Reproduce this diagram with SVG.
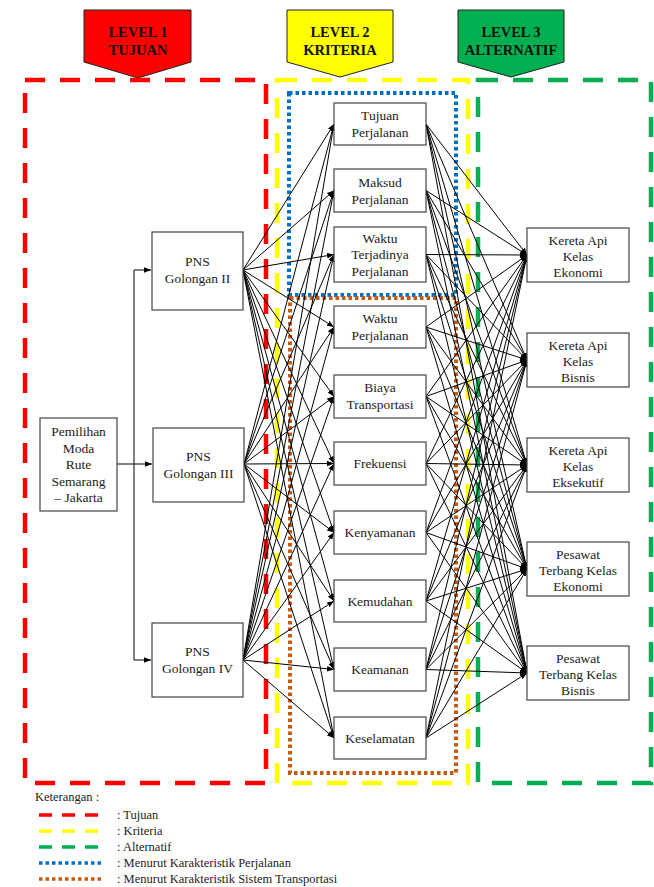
<svg xmlns="http://www.w3.org/2000/svg" width="654" height="887" viewBox="0 0 654 887">
<defs>
<marker id="ah" viewBox="0 0 10 10" refX="10" refY="5" markerWidth="7" markerHeight="7" markerUnits="userSpaceOnUse" orient="auto">
<path d="M0,1 L10,5 L0,9 z" fill="#000"/>
</marker>
<style>
.t{font-family:"Liberation Serif","Times New Roman",serif;font-size:13.5px;fill:#222;text-anchor:middle}
.h{font-family:"Liberation Serif","Times New Roman",serif;font-size:14.5px;font-weight:bold;fill:#111;text-anchor:middle}
.lg{font-family:"Liberation Serif","Times New Roman",serif;font-size:12.5px;fill:#222}
.box{fill:#fff;stroke:#444;stroke-width:1.2}
.e{stroke:#000;stroke-width:1;fill:none;marker-end:url(#ah)}
.dr{fill:none;stroke:#ff0000;stroke-width:4.5;stroke-dasharray:20 15}
.dy{fill:none;stroke:#ffff00;stroke-width:4.5;stroke-dasharray:20 15}
.dg{fill:none;stroke:#00b050;stroke-width:4.5;stroke-dasharray:20 15}
.db{fill:none;stroke:#0070c0;stroke-width:4;stroke-dasharray:3.5 3}
.do{fill:none;stroke:#c55a11;stroke-width:4;stroke-dasharray:3.5 3}
.lr{stroke:#ff0000;stroke-width:3.5;stroke-dasharray:13 10}
.ly{stroke:#ffff00;stroke-width:3.5;stroke-dasharray:13 10}
.lgn{stroke:#00b050;stroke-width:3.5;stroke-dasharray:13 10}
.lb{stroke:#0070c0;stroke-width:3.5;stroke-dasharray:3.5 3}
.lo{stroke:#c55a11;stroke-width:3.5;stroke-dasharray:3.5 3}
</style>
</defs>
<rect width="654" height="887" fill="#fff"/>

<g id="headers">
<g id="hdr1"><polygon points="84,10 191,10 191,62 138,78 84,62" fill="#ff0000" stroke="#222" stroke-width="1"/><text class="h" x="138" y="37">LEVEL 1</text><text class="h" x="138" y="55">TUJUAN</text></g>
<g id="hdr2"><polygon points="287,10 393,10 393,62 340,77 287,62" fill="#ffff00" stroke="#222" stroke-width="1"/><text class="h" x="340" y="37">LEVEL 2</text><text class="h" x="340" y="55">KRITERIA</text></g>
<g id="hdr3"><polygon points="458,10 564,10 564,62 511,77 458,62" fill="#00b050" stroke="#222" stroke-width="1"/><text class="h" x="511" y="37">LEVEL 3</text><text class="h" x="511" y="55">ALTERNATIF</text></g>
</g>

<g id="groups">
<rect class="dr" x="25" y="80" width="241" height="703"/>
<rect class="dy" x="277" y="80" width="191" height="703"/>
<rect class="dg" x="478" y="80" width="173" height="703"/>
<rect class="db" x="289" y="93" width="167" height="202"/>
<rect class="do" x="290" y="298" width="166" height="475"/>
</g>

<g id="connectors">
<polyline points="117,464 152,464" class="e"/>
<polyline points="134,464 134,270 151,270" class="e"/>
<polyline points="134,464 134,660 151,660" class="e"/>

<line class="e" x1="243" y1="270" x2="334" y2="124"/>
<line class="e" x1="243" y1="270" x2="334" y2="190.5"/>
<line class="e" x1="243" y1="270" x2="334" y2="254.5"/>
<line class="e" x1="243" y1="270" x2="334" y2="327"/>
<line class="e" x1="243" y1="270" x2="334" y2="396.5"/>
<line class="e" x1="243" y1="270" x2="334" y2="463.5"/>
<line class="e" x1="243" y1="270" x2="334" y2="532.5"/>
<line class="e" x1="243" y1="270" x2="334" y2="601"/>
<line class="e" x1="243" y1="270" x2="334" y2="669.5"/>
<line class="e" x1="243" y1="270" x2="334" y2="738"/>

<line class="e" x1="244" y1="464" x2="334" y2="124"/>
<line class="e" x1="244" y1="464" x2="334" y2="190.5"/>
<line class="e" x1="244" y1="464" x2="334" y2="254.5"/>
<line class="e" x1="244" y1="464" x2="334" y2="327"/>
<line class="e" x1="244" y1="464" x2="334" y2="396.5"/>
<line class="e" x1="244" y1="464" x2="334" y2="463.5"/>
<line class="e" x1="244" y1="464" x2="334" y2="532.5"/>
<line class="e" x1="244" y1="464" x2="334" y2="601"/>
<line class="e" x1="244" y1="464" x2="334" y2="669.5"/>
<line class="e" x1="244" y1="464" x2="334" y2="738"/>

<line class="e" x1="243" y1="660" x2="334" y2="124"/>
<line class="e" x1="243" y1="660" x2="334" y2="190.5"/>
<line class="e" x1="243" y1="660" x2="334" y2="254.5"/>
<line class="e" x1="243" y1="660" x2="334" y2="327"/>
<line class="e" x1="243" y1="660" x2="334" y2="396.5"/>
<line class="e" x1="243" y1="660" x2="334" y2="463.5"/>
<line class="e" x1="243" y1="660" x2="334" y2="532.5"/>
<line class="e" x1="243" y1="660" x2="334" y2="601"/>
<line class="e" x1="243" y1="660" x2="334" y2="669.5"/>
<line class="e" x1="243" y1="660" x2="334" y2="738"/>

<line class="e" x1="426" y1="124" x2="527" y2="255"/>
<line class="e" x1="426" y1="124" x2="527" y2="360"/>
<line class="e" x1="426" y1="124" x2="527" y2="465"/>
<line class="e" x1="426" y1="124" x2="527" y2="569"/>
<line class="e" x1="426" y1="124" x2="527" y2="673"/>
<line class="e" x1="426" y1="190.5" x2="527" y2="255"/>
<line class="e" x1="426" y1="190.5" x2="527" y2="360"/>
<line class="e" x1="426" y1="190.5" x2="527" y2="465"/>
<line class="e" x1="426" y1="190.5" x2="527" y2="569"/>
<line class="e" x1="426" y1="190.5" x2="527" y2="673"/>
<line class="e" x1="426" y1="254.5" x2="527" y2="255"/>
<line class="e" x1="426" y1="254.5" x2="527" y2="360"/>
<line class="e" x1="426" y1="254.5" x2="527" y2="465"/>
<line class="e" x1="426" y1="254.5" x2="527" y2="569"/>
<line class="e" x1="426" y1="254.5" x2="527" y2="673"/>
<line class="e" x1="426" y1="327" x2="527" y2="255"/>
<line class="e" x1="426" y1="327" x2="527" y2="360"/>
<line class="e" x1="426" y1="327" x2="527" y2="465"/>
<line class="e" x1="426" y1="327" x2="527" y2="569"/>
<line class="e" x1="426" y1="327" x2="527" y2="673"/>
<line class="e" x1="426" y1="396.5" x2="527" y2="255"/>
<line class="e" x1="426" y1="396.5" x2="527" y2="360"/>
<line class="e" x1="426" y1="396.5" x2="527" y2="465"/>
<line class="e" x1="426" y1="396.5" x2="527" y2="569"/>
<line class="e" x1="426" y1="396.5" x2="527" y2="673"/>
<line class="e" x1="426" y1="463.5" x2="527" y2="255"/>
<line class="e" x1="426" y1="463.5" x2="527" y2="360"/>
<line class="e" x1="426" y1="463.5" x2="527" y2="465"/>
<line class="e" x1="426" y1="463.5" x2="527" y2="569"/>
<line class="e" x1="426" y1="463.5" x2="527" y2="673"/>
<line class="e" x1="426" y1="532.5" x2="527" y2="255"/>
<line class="e" x1="426" y1="532.5" x2="527" y2="360"/>
<line class="e" x1="426" y1="532.5" x2="527" y2="465"/>
<line class="e" x1="426" y1="532.5" x2="527" y2="569"/>
<line class="e" x1="426" y1="532.5" x2="527" y2="673"/>
<line class="e" x1="426" y1="601" x2="527" y2="255"/>
<line class="e" x1="426" y1="601" x2="527" y2="360"/>
<line class="e" x1="426" y1="601" x2="527" y2="465"/>
<line class="e" x1="426" y1="601" x2="527" y2="569"/>
<line class="e" x1="426" y1="601" x2="527" y2="673"/>
<line class="e" x1="426" y1="669.5" x2="527" y2="255"/>
<line class="e" x1="426" y1="669.5" x2="527" y2="360"/>
<line class="e" x1="426" y1="669.5" x2="527" y2="465"/>
<line class="e" x1="426" y1="669.5" x2="527" y2="569"/>
<line class="e" x1="426" y1="669.5" x2="527" y2="673"/>
<line class="e" x1="426" y1="738" x2="527" y2="255"/>
<line class="e" x1="426" y1="738" x2="527" y2="360"/>
<line class="e" x1="426" y1="738" x2="527" y2="465"/>
<line class="e" x1="426" y1="738" x2="527" y2="569"/>
<line class="e" x1="426" y1="738" x2="527" y2="673"/>
</g>

<g id="goal"><rect class="box" x="40" y="418" width="77" height="93"/>
<text class="t" x="78.5" y="436">Pemilihan</text><text class="t" x="78.5" y="452.5">Moda</text><text class="t" x="78.5" y="469">Rute</text><text class="t" x="78.5" y="485.5">Semarang</text><text class="t" x="78.5" y="502">– Jakarta</text></g>

<g id="gol2"><rect class="box" x="152" y="232" width="91" height="78"/><text class="t" x="197.5" y="266">PNS</text><text class="t" x="197.5" y="283">Golongan II</text></g>
<g id="gol3"><rect class="box" x="153" y="428" width="91" height="74"/><text class="t" x="198.5" y="461">PNS</text><text class="t" x="198.5" y="478">Golongan III</text></g>
<g id="gol4"><rect class="box" x="152" y="623" width="91" height="74"/><text class="t" x="197.5" y="656">PNS</text><text class="t" x="197.5" y="673">Golongan IV</text></g>

<g id="k1"><rect class="box" x="334" y="103" width="92" height="42"/><text class="t" x="380" y="120">Tujuan</text><text class="t" x="380" y="137">Perjalanan</text></g>
<g id="k2"><rect class="box" x="334" y="169" width="92" height="43"/><text class="t" x="380" y="187">Maksud</text><text class="t" x="380" y="204">Perjalanan</text></g>
<g id="k3"><rect class="box" x="334" y="227" width="92" height="55"/><text class="t" x="380" y="243">Waktu</text><text class="t" x="380" y="259">Terjadinya</text><text class="t" x="380" y="276">Perjalanan</text></g>
<g id="k4"><rect class="box" x="334" y="306" width="92" height="42"/><text class="t" x="380" y="323">Waktu</text><text class="t" x="380" y="340">Perjalanan</text></g>
<g id="k5"><rect class="box" x="334" y="375" width="92" height="43"/><text class="t" x="380" y="392">Biaya</text><text class="t" x="380" y="409">Transportasi</text></g>
<g id="k6"><rect class="box" x="334" y="442" width="92" height="43"/><text class="t" x="380" y="468">Frekuensi</text></g>
<g id="k7"><rect class="box" x="334" y="511" width="92" height="43"/><text class="t" x="380" y="537">Kenyamanan</text></g>
<g id="k8"><rect class="box" x="334" y="580" width="92" height="42"/><text class="t" x="380" y="606">Kemudahan</text></g>
<g id="k9"><rect class="box" x="334" y="648" width="92" height="43"/><text class="t" x="380" y="674">Keamanan</text></g>
<g id="k10"><rect class="box" x="334" y="717" width="92" height="42"/><text class="t" x="380" y="743">Keselamatan</text></g>

<g id="a1"><rect class="box" x="527" y="228" width="102" height="54"/><text class="t" x="578" y="244.5">Kereta Api</text><text class="t" x="578" y="260.5">Kelas</text><text class="t" x="578" y="276.5">Ekonomi</text></g>
<g id="a2"><rect class="box" x="527" y="333" width="102" height="54"/><text class="t" x="578" y="349.5">Kereta Api</text><text class="t" x="578" y="365.5">Kelas</text><text class="t" x="578" y="381.5">Bisnis</text></g>
<g id="a3"><rect class="box" x="527" y="438" width="102" height="54"/><text class="t" x="578" y="454.5">Kereta Api</text><text class="t" x="578" y="470.5">Kelas</text><text class="t" x="578" y="486.5">Eksekutif</text></g>
<g id="a4"><rect class="box" x="527" y="542" width="102" height="54"/><text class="t" x="578" y="558.5">Pesawat</text><text class="t" x="578" y="574.5">Terbang Kelas</text><text class="t" x="578" y="590.5">Ekonomi</text></g>
<g id="a5"><rect class="box" x="527" y="646" width="102" height="54"/><text class="t" x="578" y="662.5">Pesawat</text><text class="t" x="578" y="678.5">Terbang Kelas</text><text class="t" x="578" y="694.5">Bisnis</text></g>

<g id="legend">
<text class="lg" x="35" y="801">Keterangan :</text>
<line class="lr" x1="39" y1="815" x2="100" y2="815"/><text class="lg" x="117" y="819">: Tujuan</text>
<line class="ly" x1="39" y1="831" x2="100" y2="831"/><text class="lg" x="117" y="835">: Kriteria</text>
<line class="lgn" x1="39" y1="847" x2="100" y2="847"/><text class="lg" x="117" y="851">: Alternatif</text>
<line class="lb" x1="39" y1="863" x2="104" y2="863"/><text class="lg" x="117" y="867">: Menurut Karakteristik  Perjalanan</text>
<line class="lo" x1="39" y1="879" x2="104" y2="879"/><text class="lg" x="117" y="883">: Menurut Karakteristik  Sistem Transportasi</text>
</g>
</svg>
